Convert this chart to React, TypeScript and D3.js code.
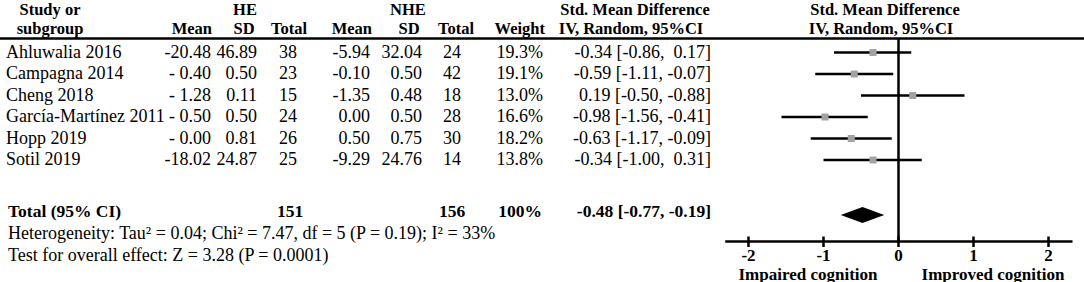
import React, { useEffect, useRef } from 'react';
import * as d3 from 'd3';

const studies = ['Ahluwalia 2016', 'Campagna 2014', 'Cheng 2018', 'García-Martínez 2011', 'Hopp 2019', 'Sotil 2019'];
const heMean = ['-20.48', '- 0.40', '- 1.28', '- 0.50', '- 0.00', '-18.02'];
const heSD = [46.89, 0.5, 0.11, 0.5, 0.81, 24.87];
const heTotal = [38, 23, 15, 24, 26, 25];
const nheMean = [-5.94, -0.1, -1.35, 0.0, 0.5, -9.29];
const nheSD = [32.04, 0.5, 0.48, 0.5, 0.75, 24.76];
const nheTotal = [24, 42, 18, 28, 30, 14];
const weights = [19.3, 19.1, 13.0, 16.6, 18.2, 13.8];
const smd = [-0.34, -0.59, 0.19, -0.98, -0.63, -0.34];
const ciLow = [-0.86, -1.11, -0.5, -1.56, -1.17, -1.0];
const ciHigh = [0.17, -0.07, 0.88, -0.41, -0.09, 0.31];
// upper bounds as printed in the source table (Cheng's sign differs there)
const ciHighLabel = [' 0.17', '-0.07', '-0.88', '-0.41', '-0.09', ' 0.31'];

const pooled = { est: -0.48, low: -0.77, high: -0.19, heN: 151, nheN: 156 };
const axisTicks = [-2, -1, 0, 1, 2];

const FONT = '"Liberation Serif", "Times New Roman", serif';

export default function App() {
  const svgRef = useRef<SVGSVGElement>(null);

  useEffect(() => {
    if (!svgRef.current) return;
    const svg = d3.select(svgRef.current);
    svg.selectAll('*').remove();

    const x = d3.scaleLinear().domain([-2, 2]).range([748.5, 1048.5]);
    const y = d3.scaleLinear().domain([0, 1]).range([52.5, 74]);
    const g = svg.append('g').style('font-family', FONT).attr('fill', '#000');

    const txt = (t: string, tx: number, ty: number, anchor = 'start', bold = false, size = 0) =>
      g.append('text')
        .attr('x', tx)
        .attr('y', ty)
        .attr('text-anchor', anchor)
        .attr('font-weight', bold ? 'bold' : 'normal')
        .style('font-size', `${size || (bold ? 17.5 : 18)}px`)
        .style('white-space', 'pre')
        .text(t);

    // Header (two lines, slightly smaller so they don't collide)
    const h1 = 15, h2 = 33.5, hs = 16.5;
    txt('Study or', 50, h1, 'middle', true, hs);
    txt('subgroup', 50, h2, 'middle', true, hs);
    txt('HE', 245, h1, 'middle', true, hs);
    txt('Mean', 212, h2, 'end', true, hs);
    txt('SD', 244, h2, 'middle', true, hs);
    txt('Total', 289, h2, 'middle', true, hs);
    txt('NHE', 408, h1, 'middle', true, hs);
    txt('Mean', 372, h2, 'end', true, hs);
    txt('SD', 409, h2, 'middle', true, hs);
    txt('Total', 456, h2, 'middle', true, hs);
    txt('Weight', 545, h2, 'end', true, hs);
    txt('Std. Mean Difference', 635, h1, 'middle', true, hs);
    txt('IV, Random, 95%CI', 631, h2, 'middle', true, hs);
    txt('Std. Mean Difference', 885, h1, 'middle', true, hs);
    txt('IV, Random, 95%CI', 881, h2, 'middle', true, hs);

    g.append('line')
      .attr('x1', 0).attr('x2', 1084)
      .attr('y1', 38.5).attr('y2', 38.5)
      .attr('stroke', '#000').attr('stroke-width', 2.5);

    // Study rows
    studies.forEach((s, i) => {
      const by = y(i) + 5;
      txt(s, 6, by);
      txt(heMean[i], 211, by, 'end');
      txt(heSD[i].toFixed(2), 257, by, 'end');
      txt(String(heTotal[i]), 288, by, 'middle');
      txt(nheMean[i].toFixed(2), 370, by, 'end');
      txt(nheSD[i].toFixed(2), 422, by, 'end');
      txt(String(nheTotal[i]), 452, by, 'middle');
      txt(`${weights[i].toFixed(1)}%`, 543, by, 'end');
      txt(`${smd[i].toFixed(2)} [${ciLow[i].toFixed(2)}, ${ciHighLabel[i]}]`, 711, by, 'end');
    });

    // Total row
    const ty = 217;
    txt('Total (95% CI)', 8, ty, 'start', true);
    txt(String(pooled.heN), 290, ty, 'middle', true);
    txt(String(pooled.nheN), 452, ty, 'middle', true);
    txt('100%', 542, ty, 'end', true);
    txt(`${pooled.est.toFixed(2)} [${pooled.low.toFixed(2)}, ${pooled.high.toFixed(2)}]`, 711, ty, 'end', true);
    txt('Heterogeneity: Tau² = 0.04; Chi² = 7.47, df = 5 (P = 0.19); I² = 33%', 8, 239);
    txt('Test for overall effect: Z = 3.28 (P = 0.0001)', 8, 261);

    // Forest plot
    const axisY = 241.5;
    g.append('line')
      .attr('x1', x(0)).attr('x2', x(0))
      .attr('y1', 38.5).attr('y2', axisY)
      .attr('stroke', '#000').attr('stroke-width', 2.5);

    studies.forEach((_, i) => {
      const cy = y(i);
      g.append('line')
        .attr('x1', x(ciLow[i])).attr('x2', x(ciHigh[i]))
        .attr('y1', cy).attr('y2', cy)
        .attr('stroke', '#000').attr('stroke-width', 2.5);
      g.append('rect')
        .attr('x', x(smd[i]) - 3.5).attr('y', cy - 3.5)
        .attr('width', 7).attr('height', 7)
        .attr('fill', '#a3a3a3');
    });

    const dy = 215;
    g.append('path')
      .attr('d', d3.line()([
        [x(pooled.low), dy], [x(pooled.est), dy - 8],
        [x(pooled.high), dy], [x(pooled.est), dy + 8],
      ]) + 'Z')
      .attr('fill', '#000');

    g.append('line')
      .attr('x1', x(-2.31)).attr('x2', x(2.32))
      .attr('y1', axisY).attr('y2', axisY)
      .attr('stroke', '#000').attr('stroke-width', 2.5);

    axisTicks.forEach(t => {
      g.append('line')
        .attr('x1', x(t)).attr('x2', x(t))
        .attr('y1', axisY - 5).attr('y2', axisY + 5.5)
        .attr('stroke', '#000').attr('stroke-width', 2.5);
      txt(String(t), x(t), 260.5, 'middle', true, 17);
    });

    txt('Impaired cognition', 808, 279.5, 'middle', true, 17);
    txt('Improved cognition', 993, 279.5, 'middle', true, 17);
  }, []);

  return (
    <svg
      ref={svgRef}
      width={1084}
      height={282}
      style={{ position: 'fixed', left: 0, top: 0, background: '#fff' }}
    />
  );
}
